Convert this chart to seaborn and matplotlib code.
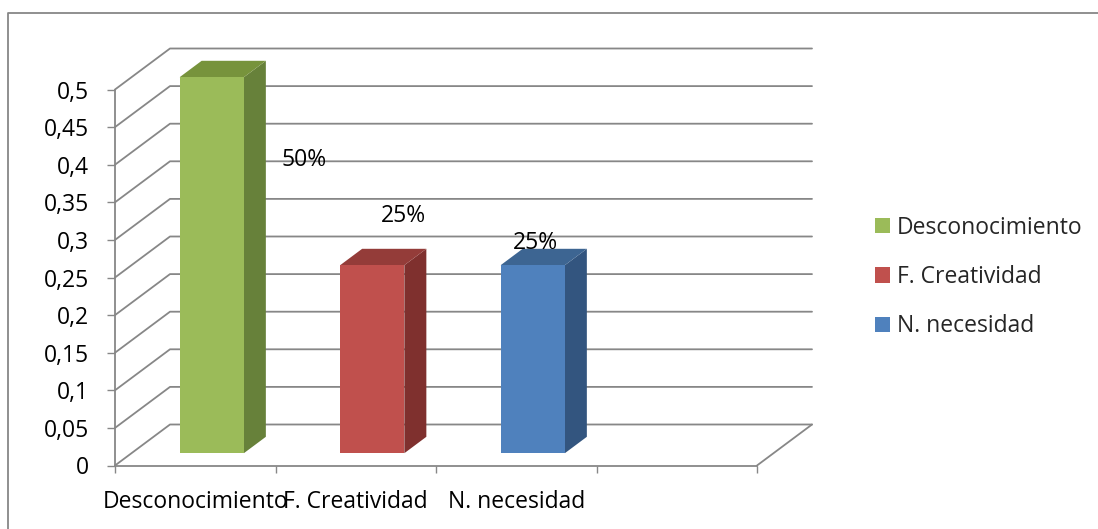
import matplotlib
matplotlib.use("Agg")
import matplotlib.pyplot as plt
import seaborn as sns
from matplotlib.patches import Polygon, Patch
from matplotlib.lines import Line2D
from matplotlib.transforms import ScaledTranslation, IdentityTransform

# --- data -------------------------------------------------------------
categorias = ["Desconocimiento", "F. Creatividad", "N. necesidad"]
valores = [0.5, 0.25, 0.25]
ticks_y = [0, 0.05, 0.1, 0.15, 0.2, 0.25, 0.3, 0.35, 0.4, 0.45, 0.5]
etiquetas_y = ["0", "0,05", "0,1", "0,15", "0,2", "0,25", "0,3", "0,35", "0,4", "0,45", "0,5"]

# --- style ------------------------------------------------------------
colores_frente = ["#9BBB59", "#C0504D", "#4F81BD"]
colores_lado = ["#67813A", "#7F302E", "#33557F"]
colores_tapa = ["#77933C", "#943C39", "#3D6592"]
gris = "#878787"
# data-label anchors (category units, value units)
pos_etiquetas = [(0.68, 0.406), (1.30, 0.332), (2.117, 0.296)]

sns.set_theme(style="white")
plt.rcParams["font.family"] = ["Open Sans", "DejaVu Sans"]
FS = 16.5

W, H = 1098, 529
DPI = 100
fig = plt.figure(figsize=(W / DPI, H / DPI), dpi=DPI)
fig.patch.set_facecolor("white")

# front plane of the 3-D box, in pixels
left_px, right_px, y0_px, ytop_px = 115, 757, 465.5, 89.5
ax = fig.add_axes([left_px / W, (H - y0_px) / H,
                   (right_px - left_px) / W, (y0_px - ytop_px) / H])

# depth of the box (pixels) and the slab occupied by the bars
DX, DY = 55, 41
f_front, f_back = 0.30, 0.70

sns.barplot(x=categorias, y=valores, hue=categorias, palette=colores_frente,
            width=0.4, saturation=1, legend=False, ax=ax, zorder=4)
ax.set_xlim(-0.5, 3.5)
ax.set_ylim(0, 0.5)
ax.set_xlabel("")
ax.set_ylabel("")


def disp(x, y, dx=0.0, dy=0.0):
    px, py = ax.transData.transform((x, y))
    return (px + dx, py + dy)


ident = IdentityTransform()

# back wall gridlines and left-wall diagonals
for yv in ticks_y:
    p0 = disp(-0.5, yv)
    p1 = disp(-0.5, yv, DX, DY)
    p2 = disp(3.5, yv, DX, DY)
    ax.add_line(Line2D([p0[0], p1[0], p2[0]], [p0[1], p1[1], p2[1]],
                       transform=ident, color=gris, lw=1.3, clip_on=False, zorder=1))
# right edge of the floor
q0 = disp(3.5, 0)
q1 = disp(3.5, 0, DX, DY)
ax.add_line(Line2D([q0[0], q1[0]], [q0[1], q1[1]], transform=ident,
                   color=gris, lw=1.3, clip_on=False, zorder=1))

# 3-D bars: shift the front faces into depth, add side and top faces
bars = sorted(ax.patches, key=lambda p: p.get_x())
ofx, ofy = f_front * DX, f_front * DY
obx, oby = f_back * DX, f_back * DY
for i, p in enumerate(bars):
    x0, w, h = p.get_x(), p.get_width(), p.get_height()
    p.set_transform(ax.transData + ScaledTranslation(ofx / DPI, ofy / DPI, fig.dpi_scale_trans))
    p.set_clip_on(False)
    p.set_edgecolor("none")
    b_f = disp(x0 + w, 0, ofx, ofy)
    b_b = disp(x0 + w, 0, obx, oby)
    c_f = disp(x0 + w, h, ofx, ofy)
    c_b = disp(x0 + w, h, obx, oby)
    d_f = disp(x0, h, ofx, ofy)
    d_b = disp(x0, h, obx, oby)
    ax.add_patch(Polygon([b_f, b_b, c_b, c_f], closed=True, transform=ident,
                         facecolor=colores_lado[i], edgecolor="none", clip_on=False, zorder=3))
    ax.add_patch(Polygon([d_f, c_f, c_b, d_b], closed=True, transform=ident,
                         facecolor=colores_tapa[i], edgecolor="none", clip_on=False, zorder=3))

# percentage labels
for v, (lx, ly) in zip(valores, pos_etiquetas):
    ax.text(lx, ly, f"{v:.0%}", ha="center", va="center", fontsize=FS,
            color="black", zorder=6, clip_on=False)

# axes, ticks and labels
for s in ["top", "right"]:
    ax.spines[s].set_visible(False)
for s in ["left", "bottom"]:
    ax.spines[s].set_color(gris)
    ax.spines[s].set_linewidth(1.3)
    ax.spines[s].set_zorder(2)

ax.set_yticks(ticks_y)
ax.set_yticklabels(etiquetas_y)
ax.tick_params(axis="y", direction="out", length=5.5, width=1.0, color=gris,
               pad=13, labelsize=FS, labelcolor="black", left=True)
ax.set_xticks([-0.5, 0.5, 1.5, 2.5, 3.5])
ax.set_xticklabels([])
ax.set_xticks([0, 1, 2], minor=True)
ax.set_xticklabels(categorias, minor=True)
ax.tick_params(axis="x", which="major", direction="out", length=5, width=1.0,
               color=gris, bottom=True)
ax.tick_params(axis="x", which="minor", length=0, pad=18, labelsize=FS,
               labelcolor="black")
ax.grid(False)
ax.set_facecolor("none")

# legend
handles = [Patch(facecolor=c, edgecolor="none") for c in colores_frente]
fig.legend(handles, categorias, loc="center left",
           bbox_to_anchor=(875 / W, (H - 277) / H), frameon=False,
           fontsize=FS, handlelength=0.66, handleheight=0.66,
           handletextpad=0.3, labelspacing=1.11, borderpad=0, borderaxespad=0)

# chart area border (top and left edges)
fig.add_artist(Line2D([8 / W, 8 / W, 1.0], [0.0, (H - 13) / H, (H - 13) / H],
                      transform=fig.transFigure, color=gris, lw=1.3))

fig.savefig("out.png", dpi=DPI, facecolor="white")
